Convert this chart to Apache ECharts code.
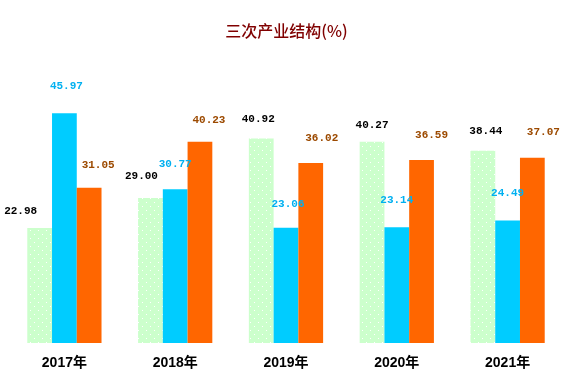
<!DOCTYPE html>
<html>
<head>
<meta charset="utf-8">
<script src="https://cdn.jsdelivr.net/npm/echarts@6/dist/echarts.min.js"></script>
<style>html,body{margin:0;padding:0;background:#fff;}#c{width:573px;height:384px;}</style>
</head>
<body>
<div id="c"></div>
<script>
var categories = ['2017年', '2018年', '2019年', '2020年', '2021年'];
var primary = [22.98, 29.00, 40.92, 40.27, 38.44];
var secondary = [45.97, 30.77, 23.06, 23.14, 24.49];
var tertiary = [31.05, 40.23, 36.02, 36.59, 37.07];
var titleText = '三次产业结构(%)';

// label offsets (dx, dy above bar top) per item
var primaryLabelShift = [[-19, 17], [-9, 22], [-3, 19], [0, 16], [3, 20]];
var secondaryLabelShift = [[2, 27], [0, 25], [2, 23], [0, 27], [0, 27]];
var tertiaryLabelShift = [[9, 23], [9, 22], [11, 25], [10, 25], [11, 25]];

function makePattern() {
  var cv = document.createElement('canvas');
  cv.width = 8; cv.height = 8;
  var ctx = cv.getContext('2d');
  ctx.fillStyle = '#ccffcc';
  ctx.fillRect(0, 0, 8, 8);
  ctx.fillStyle = '#ffffff';
  ctx.fillRect(2, 2, 1, 1);
  ctx.fillRect(6, 6, 1, 1);
  return cv;
}

function build(values, shifts) {
  return values.map(function (v, i) {
    return {
      value: v,
      label: { offset: [shifts[i][0], -shifts[i][1]] }
    };
  });
}

function labelStyle(color) {
  return {
    show: true,
    position: 'top',
    distance: 0,
    verticalAlign: 'middle',
    fontFamily: 'Liberation Mono, monospace',
    fontSize: 11,
    fontWeight: 'bold',
    color: color,
    formatter: function (p) { return p.value.toFixed(2); }
  };
}

var chart = echarts.init(document.getElementById('c'), null, { renderer: 'canvas' });
chart.setOption({
  animation: false,
  backgroundColor: '#ffffff',
  title: {
    text: titleText,
    left: 'center',
    top: 18,
    textStyle: { color: '#800000', fontSize: 16, fontWeight: 500, fontFamily: 'Noto Sans CJK SC' }
  },
  grid: { left: 9, right: 10, top: 93, bottom: 41, containLabel: false },
  xAxis: {
    type: 'category',
    data: categories,
    axisLine: { show: false },
    axisTick: { show: false },
    axisLabel: {
      margin: 13,
      color: '#000',
      fontSize: 14,
      fontWeight: 'bold',
      fontFamily: 'Liberation Sans, Noto Sans CJK SC'
    }
  },
  yAxis: {
    type: 'value',
    min: 0,
    max: 50,
    show: false,
    splitLine: { show: false }
  },
  series: [
    {
      type: 'bar',
      data: build(primary, primaryLabelShift),
      barGap: '0%',
      barCategoryGap: '33%',
      itemStyle: { color: { image: makePattern(), repeat: 'repeat' } },
      label: labelStyle('#000000')
    },
    {
      type: 'bar',
      data: build(secondary, secondaryLabelShift),
      barGap: '0%',
      barCategoryGap: '33%',
      itemStyle: { color: '#00ccff' },
      label: labelStyle('#00b0f0')
    },
    {
      type: 'bar',
      data: build(tertiary, tertiaryLabelShift),
      barGap: '0%',
      barCategoryGap: '33%',
      itemStyle: { color: '#ff6600' },
      label: labelStyle('#9c4a00')
    }
  ]
});
</script>
</body>
</html>
